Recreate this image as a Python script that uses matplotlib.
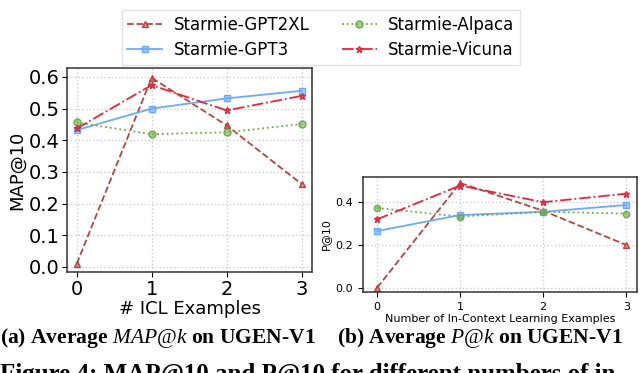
import matplotlib
matplotlib.use("Agg")
import matplotlib.pyplot as plt

# данные
x_vals = [0, 1, 2, 3]
names = ["Starmie-GPT2XL", "Starmie-GPT3", "Starmie-Alpaca", "Starmie-Vicuna"]

map_gpt2xl = [0.01, 0.597, 0.447, 0.262]
map_gpt3 = [0.432, 0.500, 0.532, 0.556]
map_alpaca = [0.456, 0.419, 0.425, 0.451]
map_vicuna = [0.437, 0.574, 0.494, 0.540]

p_gpt2xl = [0.0, 0.490, 0.360, 0.200]
p_gpt3 = [0.265, 0.340, 0.355, 0.387]
p_alpaca = [0.373, 0.333, 0.355, 0.347]
p_vicuna = [0.320, 0.478, 0.400, 0.440]

left_ticks = [0.0, 0.1, 0.2, 0.3, 0.4, 0.5, 0.6]
right_ticks = [0.0, 0.2, 0.4]

# стили линий
styles = [
    dict(color="#b5473f", linestyle="--", marker="^"),
    dict(color="#6aaaff", linestyle="-", marker="s"),
    dict(color="#6fac45", linestyle=":", marker="o"),
    dict(color="#e8243a", linestyle="-.", marker="*"),
]

plt.rcParams["mathtext.fontset"] = "custom"
plt.rcParams["mathtext.it"] = "Liberation Serif:italic"
plt.rcParams["mathtext.rm"] = "Liberation Serif"

fig = plt.figure(figsize=(6.4, 3.73), dpi=100)
ax1 = fig.add_axes([0.1047, 0.2708, 0.3828, 0.5469])
ax2 = fig.add_axes([0.5672, 0.2172, 0.4281, 0.3083])


def draw(ax, series, ms, lw):
    lines = []
    for ys, st, name in zip(series, styles, names):
        ln, = ax.plot(x_vals, ys, color=st["color"], linestyle=st["linestyle"],
                      marker=st["marker"], markersize=ms, lw=lw,
                      markerfacecolor=st["color"] + "99",
                      markeredgecolor=st["color"], label=name)
        lines.append(ln)
    ax.grid(True, color="#cccccc", linestyle=":", lw=1)
    ax.set_axisbelow(True)
    for sp in ax.spines.values():
        sp.set_color("#333333")
        sp.set_linewidth(1.1)
    ax.set_xticks(x_vals)
    return lines


lines = draw(ax1, [map_gpt2xl, map_gpt3, map_alpaca, map_vicuna], 5, 1.3)
ax1.set_xlim(-0.13, 3.14)
ax1.set_ylim(-0.016, 0.628)
ax1.set_yticks(left_ticks)
ax1.tick_params(labelsize=14, pad=2)
ax1.set_xlabel("# ICL Examples", fontsize=13, labelpad=1)
ax1.set_ylabel("MAP@10", fontsize=13, labelpad=2)

draw(ax2, [p_gpt2xl, p_gpt3, p_alpaca, p_vicuna], 4.5, 1.3)
ax2.set_xlim(-0.17, 3.13)
ax2.set_ylim(-0.02, 0.518)
ax2.set_yticks(right_ticks)
ax2.tick_params(labelsize=8)
ax2.set_xlabel("Number of In-Context Learning Examples", fontsize=8, labelpad=2)
ax2.set_ylabel("P@10", fontsize=8, labelpad=3)

leg = fig.legend(handles=lines, labels=names,
                 ncol=2, loc="upper center", bbox_to_anchor=(0.5016, 0.995),
                 fontsize=12, frameon=True, fancybox=False,
                 handlelength=2.1, columnspacing=1.9,
                 borderpad=0.35, labelspacing=0.4, handletextpad=0.7)
leg.get_frame().set_edgecolor("#dddddd")

cap = dict(family="Liberation Serif", fontweight="bold", va="baseline")
fig.text(0.0, 1 - 343 / 373, r"(a) Average $\mathit{MAP@k}$ on UGEN-V1",
         ha="left", fontsize=15.5, **cap)
fig.text(337 / 640, 1 - 343 / 373, r"(b) Average $\mathit{P@k}$ on UGEN-V1",
         ha="left", fontsize=15.5, **cap)
fig.text(0.0, 1 - 381 / 373, "Figure 4: MAP@10 and P@10 for different numbers of in",
         ha="left", fontsize=18, **cap)

fig.savefig("out.png", dpi=100)
